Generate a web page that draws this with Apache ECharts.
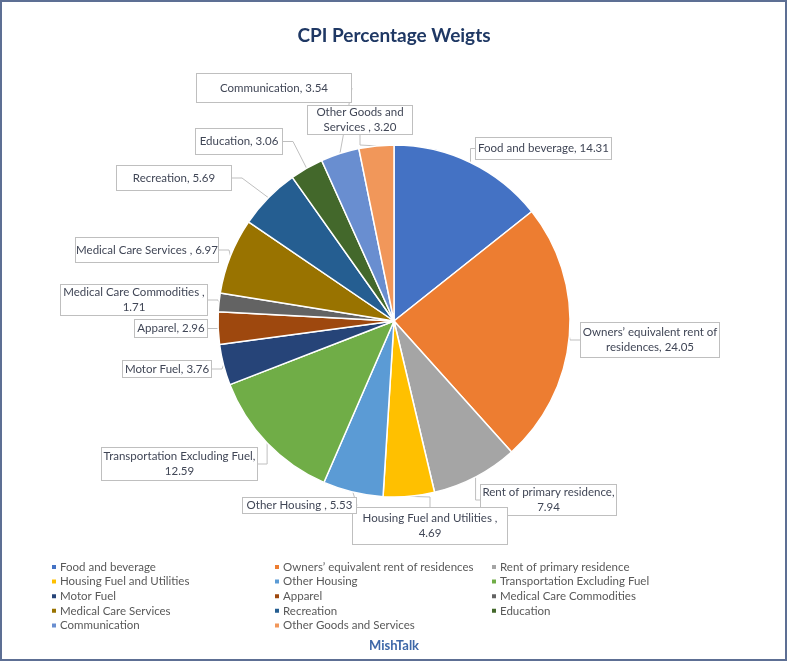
<!DOCTYPE html>
<html><head><meta charset="utf-8">
<script src="https://cdn.jsdelivr.net/npm/echarts@6/dist/echarts.min.js"></script>
<style>html,body{margin:0;padding:0;background:#fff}#c{width:788px;height:663px}</style>
</head><body><div id="c"></div>
<script>
const categories = [
  "Food and beverage",
  "Owners’ equivalent rent of residences",
  "Rent of primary residence",
  "Housing Fuel and Utilities",
  "Other Housing",
  "Transportation Excluding Fuel",
  "Motor Fuel",
  "Apparel",
  "Medical Care Commodities",
  "Medical Care Services",
  "Recreation",
  "Education",
  "Communication",
  "Other Goods and Services"
];
const values = [14.31, 24.05, 7.94, 4.69, 5.53, 12.59, 3.76, 2.96, 1.71, 6.97, 5.69, 3.06, 3.54, 3.20];
const labelTemplates = [
  "Food and beverage, {v}",
  "Owners’ equivalent rent of\nresidences, {v}",
  "Rent of primary residence,\n{v}",
  "Housing Fuel and Utilities ,\n{v}",
  "Other Housing , {v}",
  "Transportation Excluding Fuel,\n{v}",
  "Motor Fuel, {v}",
  "Apparel, {v}",
  "Medical Care Commodities ,\n{v}",
  "Medical Care Services , {v}",
  "Recreation, {v}",
  "Education, {v}",
  "Communication, {v}",
  "Other Goods and\nServices , {v}"
];
const legendColumns = [
  ["Food and beverage", "Housing Fuel and Utilities", "Motor Fuel", "Medical Care Services", "Communication"],
  ["Owners’ equivalent rent of residences", "Other Housing", "Apparel", "Recreation", "Other Goods and Services"],
  ["Rent of primary residence", "Transportation Excluding Fuel", "Medical Care Commodities", "Education"]
];
const titleText = "CPI Percentage Weigts";
const footerText = "MishTalk";

// styling / layout (not data)
const colors = ["#4472C4","#ED7D31","#A5A5A5","#FFC000","#5B9BD5","#70AD47","#264478","#9E480E","#636363","#997300","#255E91","#43682B","#698ED0","#F1975A"];
// label box [centerX, centerY, width, height]
const labelBoxes = [
  [543.5,148.5,137,23],
  [650,340,140,36],
  [548.5,500,137,32],
  [430,526,156,38],
  [299.5,505.5,115,17],
  [179.5,464,157,34],
  [167,369,90,18],
  [171,328.5,74,19],
  [134,300,148,32],
  [147,250,144,26],
  [174,178,116,26],
  [239,141.5,88,27],
  [274,88,156,30],
  [360,120,106,30]
];
const FONT = "Lato, 'Open Sans', sans-serif";

const chart = echarts.init(document.getElementById('c'), null, {renderer:'canvas'});
const data = categories.map((c,i)=>({
  name: c, value: values[i],
  label: { width: labelBoxes[i][2]-2, height: labelBoxes[i][3]-2 }
}));
const legendLefts = [45, 268, 485];
const option = {
  animation: false,
  color: colors,
  title: {
    text: titleText, left: 'center', top: 21,
    textStyle: {fontFamily: FONT, fontSize: 19, fontWeight: 'bold', color: '#1F3864'}
  },
  legend: legendColumns.map((col,k)=>({
    data: col, orient: 'vertical', left: legendLefts[k], top: 555,
    icon: 'rect', itemWidth: 6, itemHeight: 6, itemGap: 0.6,
    selectedMode: false,
    textStyle: {fontFamily: FONT, fontSize: 11.5, color: '#595959', lineHeight: 14, padding:[0,0,0,-2]}
  })),
  graphic: [
    {type:'rect', shape:{x:1,y:1,width:785,height:659}, style:{fill:'none', stroke:'#5d6f94', lineWidth:2}, silent:true},
    {type:'text', left:'center', top: 639, style:{text: footerText, font: "bold 13px " + FONT, fill:'#3E68A8'}}
  ],
  series: [{
    type: 'pie',
    center: [394, 321],
    radius: 176,
    startAngle: 90,
    clockwise: true,
    avoidLabelOverlap: false,
    itemStyle: {borderColor: '#fff', borderWidth: 1.5},
    label: {
      show: true,
      formatter: p => labelTemplates[p.dataIndex].replace('{v}', p.value.toFixed(2)),
      fontFamily: FONT, fontSize: 11.5, color: '#404656', lineHeight: 15,
      overflow: 'none',
      backgroundColor: '#fff', borderColor: '#BFBFBF', borderWidth: 1,
      align: 'center', verticalAlign: 'middle'
    },
    labelLine: {show: true, length: 10, length2: 10, lineStyle: {color: '#BFBFBF', width: 1}},
    labelLayout: p => {
      const b = labelBoxes[p.dataIndex];
      return {x: b[0], y: b[1], align: 'center', verticalAlign: 'middle'};
    },
    data: data
  }]
};
chart.setOption(option);
</script>
</body></html>
